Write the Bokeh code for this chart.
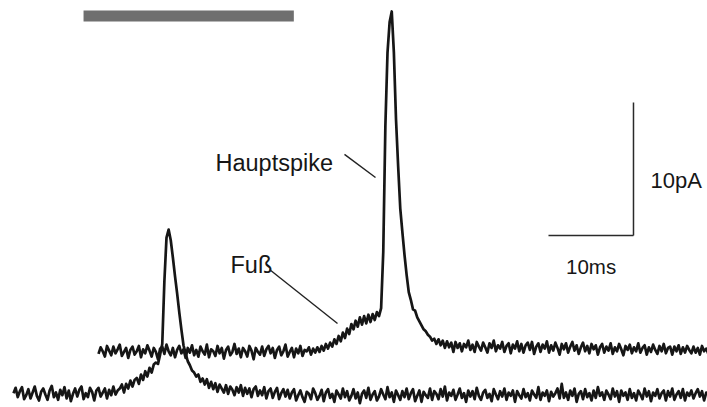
import numpy as np
from bokeh.plotting import figure
from bokeh.models import Range1d
from bokeh.core.properties import value
from bokeh.embed import file_html
from bokeh.resources import INLINE

# ---------------- data (time in ms, current in pA) ----------------
DT = 0.25  # sampling interval, ms

# lower trace: starts at 0 ms, baseline 0 pA
LOWER_T0 = 0.0
lower_current = [
    0.1, 0.5, -0.2, 0.25, 0.55, -0.35, -0.05, 0.4, -0.3, 0.15,
    0.6, -0.1, -0.45, 0.2, 0.45, 0.0, -0.4, 0.3, 0.65, -0.2,
    0.15, -0.4, 0.35, -0.05, 0.55, -0.3, 0.3, -0.5, 0.05, 0.45,
    -0.15, 0.35, 0.6, -0.35, 0.1, -0.2, 0.5, 0.2, -0.45, 0.3,
    0.5, -0.15, 0.15, 0.45, -0.3, 0.35, -0.05, 0.6, 0.0, 0.3,
    0.45, 0.75, 0.15, 0.8, 0.45, 1.05, 0.6, 1.1, 1.25, 0.8,
    1.5, 1.1, 1.75, 1.35, 2.0, 1.65, 2.25, 2.4, 2.3, 3.0,
    3.8, 8.5, 11.8, 12.4, 11.6, 10.3, 8.9, 7.6, 6.2, 4.9,
    3.7, 3.1, 2.5, 2.2, 1.8, 1.65, 1.35, 1.5, 0.95, 1.2,
    0.75, 1.15, 0.5, 0.95, 0.4, 0.85, 0.2, 0.75, 0.45, 0.15,
    0.7, 0.05, 0.6, 0.35, -0.05, 0.55, 0.15, 0.7, -0.1, 0.5,
    0.05, 0.45, -0.2, 0.4, 0.6, -0.1, 0.3, -0.05, 0.55, -0.3,
    0.25, 0.45, -0.25, 0.2, 0.5, -0.35, 0.1, 0.4, -0.15, 0.35,
    -0.3, 0.15, 0.4, -0.45, -0.05, 0.3, -0.2, -0.55, 0.2, 0.05,
    -0.35, 0.45, 0.1, -0.4, -0.1, 0.35, -0.5, 0.15, 0.4, -0.25,
    0.05, -0.55, 0.3, 0.0, -0.3, 0.45, -0.2, 0.25, -0.45, -0.1,
    0.4, -0.3, 0.15, -0.65, 0.05, 0.3, -0.25, 0.5, -0.4, 0.0,
    0.25, -0.45, -0.15, 0.4, 0.0, -0.35, 0.55, -0.2, 0.15, -0.55,
    0.3, -0.05, -0.4, 0.25, -0.2, 0.45, -0.35, 0.1, 0.4, -0.5,
    -0.1, 0.3, -0.55, 0.2, -0.05, -0.25, 0.45, -0.4, 0.25, 0.05,
    -0.35, 0.4, -0.15, 0.6, -0.45, 0.15, -0.1, 0.35, -0.4, 0.0,
    0.45, -0.25, 0.1, -0.55, 0.3, -0.15, 0.25, -0.35, 0.5, -0.1,
    -0.4, 0.15, 0.35, -0.25, 0.05, -0.5, 0.4, 0.0, -0.35, 0.25,
    -0.15, 0.45, -0.4, 0.15, -0.1, 0.3, -0.55, 0.25, -0.05, -0.3,
    0.4, -0.2, 0.1, -0.45, 0.3, 0.0, -0.25, 0.55, -0.4, 0.15,
    -0.1, 0.3, -0.5, 0.2, -0.15, 0.1, 0.45, -0.3, 0.8, -0.25,
    0.15, -0.4, 0.3, -0.1, 0.45, -0.55, 0.05, 0.25, -0.35, 0.4,
    -0.2, 0.1, -0.45, 0.3, -0.25, 0.55, -0.1, 0.15, -0.4, 0.3,
    0.0, -0.35, 0.45, -0.15, 0.25, -0.55, 0.3, -0.1, 0.15, -0.4,
    0.4, -0.25, 0.1, -0.45, 0.3, 0.0, -0.35, 0.45, -0.15, 0.25,
    -0.5, 0.15, -0.1, 0.4, -0.3, 0.1, 0.3, -0.45, 0.25, -0.15,
    0.45, -0.4, 0.0, 0.25, -0.25, 0.4, -0.45, 0.15, -0.1, 0.3,
    -0.3, 0.1, 0.4, -0.15, 0.25, -0.45, 0.15, 0.0, -0.25,
]

# upper trace: starts at 10 ms, drawn with a vertical offset
UPPER_T0 = 10.0
UPPER_OFFSET = 3.2
upper_current = [
    -0.15, 0.35, 0.05, -0.35, 0.45, 0.1, -0.25, 0.4, -0.1, 0.2,
    0.55, -0.3, 0.0, 0.3, -0.45, 0.15, 0.4, -0.2, 0.05, 0.45,
    -0.4, 0.2, -0.1, 0.5, 0.1, -0.35, 0.3, 0.0, -0.55, 0.25,
    0.4, -0.15, 0.55, 0.05, -0.25, 0.3, -0.4, 0.15, 0.45, -0.1,
    0.2, -0.45, 0.3, -0.05, 0.5, -0.25, 0.15, -0.35, 0.4, 0.05,
    -0.2, 0.55, -0.4, 0.2, 0.05, -0.3, 0.45, -0.1, 0.3, -0.5,
    0.15, 0.4, -0.25, 0.0, 0.6, -0.15, 0.25, -0.4, 0.3, 0.05,
    -0.35, 0.45, 0.1, -0.55, 0.3, 0.0, -0.2, 0.4, -0.3, 0.2,
    0.45, -0.1, 0.3, -0.45, 0.15, 0.4, -0.25, 0.05, 0.55, -0.35,
    0.0, 0.3, -0.4, 0.25, -0.1, 0.45, -0.3, 0.15, 0.05, 0.35,
    -0.2, 0.25, -0.05, 0.35, 0.0, 0.45, 0.1, 0.6, 0.25, 0.7,
    0.4, 0.95, 0.6, 1.2, 0.8, 1.45, 1.05, 1.75, 1.35, 2.1,
    1.7, 2.35, 1.9, 2.6, 2.05, 2.7, 2.15, 2.8, 2.25, 2.85,
    2.4, 3.0, 2.7, 3.3, 7.5, 17.0, 22.5, 24.8, 25.6, 22.5,
    17.5, 14.0, 10.8, 9.0, 7.3, 5.8, 4.5, 3.9, 3.2, 3.1,
    2.6, 2.3, 2.0, 1.7, 1.55, 1.3, 1.15, 0.85, 1.0, 0.6,
    0.95, 0.5, 0.85, 0.3, 0.8, 0.35, 0.7, 0.0, 0.75, 0.3,
    0.65, 0.05, 0.6, 0.35, 0.85, 0.15, 0.55, 0.0, 0.75, 0.4,
    0.1, 0.7, 0.35, -0.05, 0.65, 0.3, 0.85, 0.05, 0.5, 0.25,
    0.75, 0.0, 0.45, 0.65, -0.1, 0.55, 0.25, 0.8, 0.05, 0.6,
    -0.05, 0.5, 0.7, 0.15, 0.75, -0.15, 0.4, 0.65, 0.0, 0.55,
    0.25, 0.8, -0.05, 0.5, 0.1, 0.7, 0.3, -0.2, 0.6, 0.2,
    0.65, -0.05, 0.4, 0.75, 0.1, 0.5, -0.15, 0.35, 0.7, 0.05,
    0.45, -0.1, 0.6, 0.2, 0.5, -0.2, 0.35, 0.6, -0.05, 0.4,
    0.1, 0.65, -0.15, 0.35, 0.05, 0.6, 0.2, -0.25, 0.45, 0.15,
    0.55, -0.1, 0.35, 0.05, 0.65, -0.05, 0.3, 0.5, -0.2, 0.35,
    0.0, 0.55, 0.15, -0.15, 0.45, 0.05, 0.6, -0.1, 0.3, 0.4,
    -0.2, 0.4, 0.05, 0.5, -0.15, 0.35, -0.05, 0.45, 0.15, -0.1,
    0.4, -0.05, 0.3, -0.2, 0.45, 0.05, 0.25, -0.15, 0.3,
]

# scale bars
SCALE_T = 10.0      # ms
SCALE_I = 10.0      # pA
SCALE_CORNER = (72.94, 11.95)
scale_labels = ["10pA", "10ms"]

# annotations
annot_text = ["Hauptspike", "Fuß"]
annot_x = [23.76, 25.53]
annot_y = [17.44, 9.70]
leader_x0 = [38.94, 30.12]
leader_y0 = [18.05, 9.40]
leader_x1 = [42.59, 38.12]
leader_y1 = [16.32, 5.34]

# stimulus bar at top
STIM_START, STIM_END = 8.24, 32.98
STIM_LOW, STIM_HIGH = 28.05, 28.87

# ---------------- figure ----------------
p = figure(width=707, height=407,
           x_range=Range1d(-1.5294, 81.647), y_range=Range1d(-0.977, 29.624),
           output_backend="svg", toolbar_location=None, min_border=0,
           x_axis_location=None, y_axis_location=None)
p.grid.visible = False
p.outline_line_color = None
p.background_fill_color = "white"
p.border_fill_color = "white"

INK = "#161616"

lt = LOWER_T0 + DT * np.arange(len(lower_current))
p.line(lt, lower_current, line_color=INK, line_width=2.7, line_join="round")

ut = UPPER_T0 + DT * np.arange(len(upper_current))
p.line(ut, np.array(upper_current) + UPPER_OFFSET, line_color=INK, line_width=2.7,
       line_join="round")

# stimulus bar
p.quad(left=[STIM_START], right=[STIM_END], bottom=[STIM_LOW], top=[STIM_HIGH],
       fill_color="#6f6f6f", line_color=None)

# scale bars
cx, cy = SCALE_CORNER
p.line([cx, cx], [cy, cy + SCALE_I], line_color="#2a2a2a", line_width=1.5)
p.line([cx - SCALE_T, cx], [cy, cy], line_color="#2a2a2a", line_width=1.5)

font = value("Liberation Sans")
p.text(x=[cx + 2.0], y=[16.09], text=[scale_labels[0]],
       text_font=font, text_font_size="22px", text_color=INK,
       text_align="left", text_baseline="alphabetic")
p.text(x=[cx - SCALE_T + 2.06], y=[9.62], text=[scale_labels[1]],
       text_font=font, text_font_size="20.5px", text_color=INK,
       text_align="left", text_baseline="alphabetic")

# annotations
p.text(x=annot_x, y=annot_y, text=annot_text,
       text_font=font, text_font_size="23.5px", text_color=INK,
       text_align="left", text_baseline="alphabetic")
p.segment(x0=leader_x0, y0=leader_y0, x1=leader_x1, y1=leader_y1,
          line_color="#222222", line_width=1.4)

open("out.html", "w").write(file_html(p, INLINE))
